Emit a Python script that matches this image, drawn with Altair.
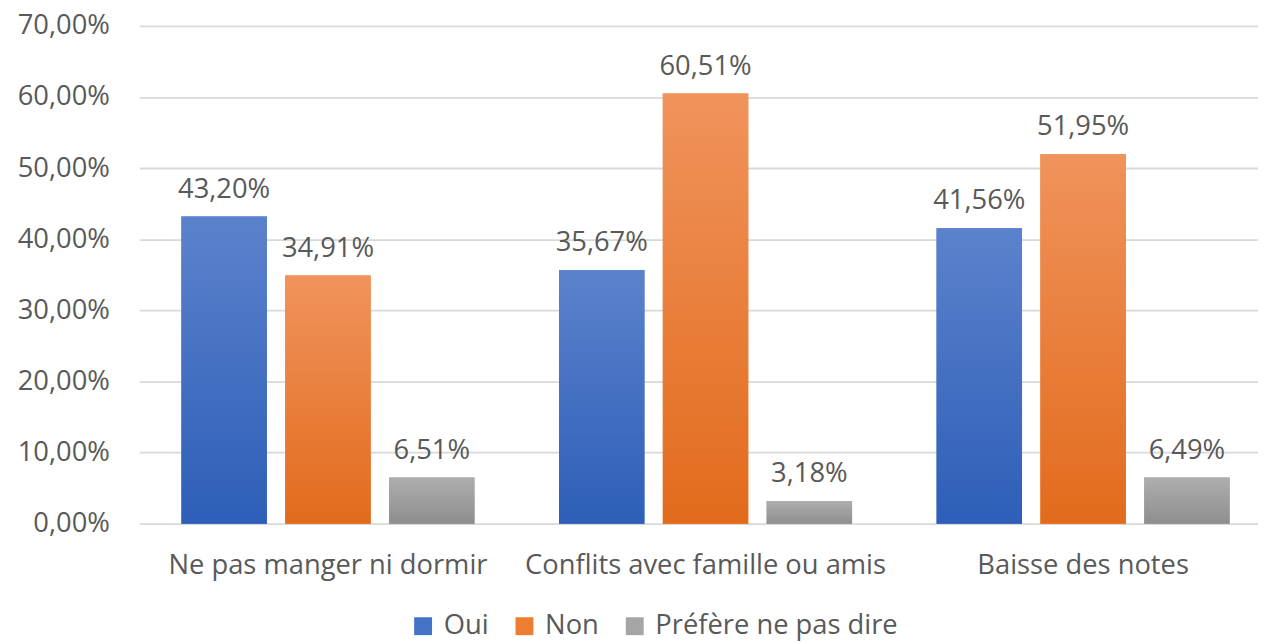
import altair as alt
import pandas as pd

categories = ["Ne pas manger ni dormir", "Conflits avec famille ou amis", "Baisse des notes"]
series = ["Oui", "Non", "Préfère ne pas dire"]
oui = [43.20, 35.67, 41.56]
non = [34.91, 60.51, 51.95]
prefere = [6.51, 3.18, 6.49]
y_ticks = [0, 10, 20, 30, 40, 50, 60, 70]

base_colors = ["#4472C4", "#ED7D31", "#A5A5A5"]
grad_top = ["#5B82CC", "#F0935C", "#AEAEAE"]
grad_bottom = ["#2E5EB8", "#E26B1C", "#8E8E8E"]

rows = []
for s, vals in zip(series, [oui, non, prefere]):
    for c, v in zip(categories, vals):
        rows.append({"category": c, "series": s, "value": v})
df = pd.DataFrame(rows)

FONT = "Open Sans"
TXT = "#595959"
FS = 27.5

x = alt.X(
    "category:N", sort=categories,
    scale=alt.Scale(range=[0, 1140], paddingInner=0, paddingOuter=0),
    axis=alt.Axis(title=None, domain=False, ticks=False, tickSize=0, labelPadding=50,
                  labelBaseline="alphabetic", labelFont=FONT, labelFontSize=FS,
                  labelColor=TXT, labelAngle=0, grid=False, labelLimit=0),
)
xo = alt.XOffset("series:N", sort=series,
                 scale=alt.Scale(domain=series, paddingInner=0.177, paddingOuter=0.407))
y = alt.Y(
    "value:Q",
    scale=alt.Scale(domain=[0, 70], nice=False),
    axis=alt.Axis(title=None, values=y_ticks, domain=False, ticks=False, tickSize=0,
                  labelPadding=30, labelLimit=0,
                  labelExpr="replace(format(datum.value, '.2f'), '.', ',') + '%'",
                  gridColor="#D9D9D9", gridWidth=1.8, labelFont=FONT, labelFontSize=FS,
                  labelColor=TXT),
)

base = alt.Chart(df).mark_bar().encode(
    x=x, xOffset=xo, y=y,
    color=alt.Color(
        "series:N", sort=series,
        scale=alt.Scale(domain=series, range=base_colors),
        legend=alt.Legend(title=None, orient="none", legendX=272, legendY=590,
                          direction="horizontal", symbolType="square", symbolSize=324,
                          symbolStrokeWidth=0, labelFont=FONT, labelFontSize=FS,
                          labelColor=TXT, labelOffset=7, columnPadding=22, padding=0,
                          symbolOpacity=1, labelLimit=0),
    ),
)

layers = [base]
for s, top, bot in zip(series, grad_top, grad_bottom):
    g = alt.Gradient(gradient="linear",
                     stops=[alt.GradientStop(color=top, offset=0),
                            alt.GradientStop(color=bot, offset=1)],
                     x1=0, x2=0, y1=0, y2=1)
    layers.append(
        alt.Chart(df).transform_filter(alt.datum.series == s)
        .mark_bar(color=g).encode(x=x, xOffset=xo, y=y)
    )

labels = alt.Chart(df).transform_calculate(
    label="replace(format(datum.value, '.2f'), '.', ',') + '%'"
).mark_text(baseline="alphabetic", dy=-19, font=FONT, fontSize=FS, color=TXT).encode(
    x=x, xOffset=xo, y=y, text="label:N"
)
layers.append(labels)

chart = alt.layer(*layers).properties(
    width=1120, height=501,
    autosize=alt.AutoSizeParams(type="none"),
    padding={"left": 132, "top": 16, "right": 6, "bottom": 117},
).configure_view(stroke=None)

chart.save("out.html", embed_options={"renderer": "svg", "actions": False})
